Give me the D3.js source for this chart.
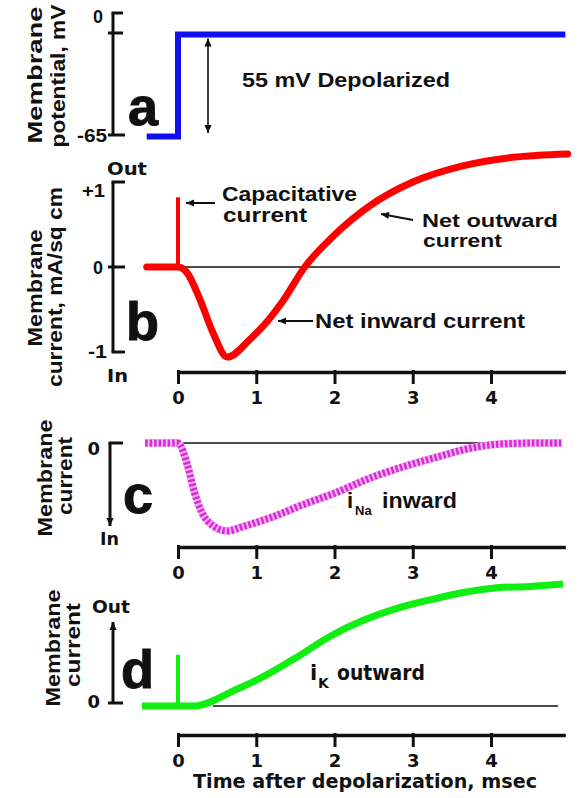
<!DOCTYPE html>
<html>
<head>
<meta charset="utf-8">
<script src="https://cdn.jsdelivr.net/npm/d3@7"></script>
<style>
  body { margin: 0; background: #fff; }
  text { font-family: "Liberation Sans", Arial, sans-serif; font-weight: bold; fill: #111; }
  .dv { font-family: "DejaVu Sans", Verdana, sans-serif; }
</style>
</head>
<body>
<svg id="chart" width="579" height="798"></svg>
<script>
/* Voltage clamp figure: clamp step (a), net current (b), iNa (c), iK (d) */

// time after depolarization, msec
var timeTicks = [0, 1, 2, 3, 4];
var timeMax = 4.95;

// a: membrane potential, mV
var clampT = [-0.4, 0, 0, timeMax];
var clampV = [-66, -66, -1, -1];

// b: net membrane current, mA/sq cm
var netT = [-0.4, 0, 0.11, 0.28, 0.45, 0.63, 0.92, 1.14, 1.34, 1.62, 1.98, 2.45, 3.0, 3.64, 4.28, 4.98];
var netI = [0, 0, -0.06, -0.38, -0.78, -1.06, -0.85, -0.64, -0.40, 0, 0.36, 0.72, 1.0, 1.19, 1.29, 1.33];
var capT = [0, 0];
var capI = [0, 0.82];

// c: sodium current (relative)
var naT = [-0.42, 0, 0.12, 0.21, 0.30, 0.43, 0.63, 0.83, 1.18, 1.60, 2.03, 2.45, 2.88, 3.31, 3.73, 4.15, 4.59, 4.9];
var naI = [0, 0, -0.25, -0.56, -0.78, -0.93, -1.0, -0.95, -0.85, -0.70, -0.56, -0.40, -0.27, -0.16, -0.06, -0.01, 0, 0];

// d: potassium current (relative)
var kT = [-0.46, 0.22, 0.40, 0.66, 1.09, 1.52, 1.94, 2.36, 2.80, 3.22, 3.64, 4.08, 4.50, 4.92];
var kI = [0, 0, 0.03, 0.11, 0.24, 0.40, 0.57, 0.70, 0.80, 0.87, 0.93, 0.97, 0.98, 1.0];
var kSpikeT = [0, 0];
var kSpikeI = [0, 0.42];

var svg = d3.select('#chart');

var x = d3.scaleLinear().domain([0, 4]).range([178, 491]);
var xAxisScale = d3.scaleLinear().domain([0, timeMax]).range([x(0), x(timeMax)]);

var yA = d3.scaleLinear().domain([-65, 0]).range([135, 33]);
var yB = d3.scaleLinear().domain([-1, 1]).range([352, 182]);
var yC = d3.scaleLinear().domain([-1, 0]).range([531, 443]);
var yD = d3.scaleLinear().domain([0, 1]).range([706, 584]);

var smooth = d3.curveMonotoneX;

var defs = svg.append('defs');
defs.append('marker')
    .attr('id', 'head')
    .attr('viewBox', '0 0 10 10')
    .attr('refX', 10).attr('refY', 5)
    .attr('markerWidth', 10).attr('markerHeight', 8)
    .attr('markerUnits', 'userSpaceOnUse')
    .attr('orient', 'auto-start-reverse')
  .append('path')
    .attr('d', 'M0,0.5 L10,5 L0,9.5 Z')
    .attr('fill', '#111');

function zip(a, b) {
  return a.map(function(d, i) { return [d, b[i]]; });
}

function trace(yScale, ts, vs, color, width, curve) {
  var line = d3.line()
      .x(function(d) { return x(d[0]); })
      .y(function(d) { return yScale(d[1]); })
      .curve(curve || d3.curveLinear);
  return svg.append('path')
      .datum(zip(ts, vs))
      .attr('d', line)
      .attr('fill', 'none')
      .attr('stroke', color)
      .attr('stroke-width', width);
}

function label(str, xp, yp, size, len, anchor, cls) {
  var t = svg.append('text')
      .attr('x', xp).attr('y', yp)
      .attr('font-size', size)
      .attr('text-anchor', anchor || 'start')
      .text(str);
  if (len) t.attr('textLength', len).attr('lengthAdjust', 'spacingAndGlyphs');
  if (cls) t.attr('class', cls);
  return t;
}

function vlabel(str, xp, yc, size, len) {
  svg.append('text')
      .attr('transform', 'translate(' + xp + ',' + yc + ') rotate(-90)')
      .attr('font-size', size)
      .attr('text-anchor', 'middle')
      .attr('textLength', len).attr('lengthAdjust', 'spacingAndGlyphs')
      .text(str);
}

function seg(x1, y1, x2, y2, w, arrow) {
  var l = svg.append('line')
      .attr('x1', x1).attr('y1', y1).attr('x2', x2).attr('y2', y2)
      .attr('stroke', '#111').attr('stroke-width', w);
  if (arrow === 'end' || arrow === 'both') l.attr('marker-end', 'url(#head)');
  if (arrow === 'start' || arrow === 'both') l.attr('marker-start', 'url(#head)');
  return l;
}

function timeAxis(yPos) {
  var g = svg.append('g')
      .attr('transform', 'translate(0,' + yPos + ')')
      .call(d3.axisBottom(xAxisScale)
        .tickValues(timeTicks)
        .tickFormat(d3.format('d'))
        .tickSize(12).tickSizeOuter(0).tickPadding(7));
  g.select('.domain').attr('stroke', '#111').attr('stroke-width', 3.5);
  g.selectAll('.tick line').attr('stroke', '#111').attr('stroke-width', 3).attr('y1', -2);
  g.selectAll('.tick text')
      .attr('class', 'dv')
      .attr('font-size', 18)
      .attr('font-weight', 'bold')
      .attr('fill', '#111');
  return g;
}

/* ---- panel a ---- */
var axA = 113;
seg(axA, yA(0) - 20, axA, yA(-65), 3);
seg(axA - 1.5, yA(0) - 20, axA + 10, yA(0) - 20, 3);
seg(axA - 5, yA(0), axA + 10, yA(0), 3);
seg(axA - 5, yA(-65), axA + 12, yA(-65), 3);
label('0', 103, 23, 18, null, 'end');
label('-65', 107, 142, 18, 30, 'end');
vlabel('Membrane', 42, 75, 21, 137);
vlabel('potential, mV', 65, 76, 21, 143);
label('a', 128, 125, 54).attr('stroke', '#111').attr('stroke-width', 1);

trace(yA, clampT, clampV, '#1010f0', 6).attr('stroke-linejoin', 'miter');
seg(208, yA(-1) + 4, 208, yA(-65) - 2, 1.6, 'both');
label('55 mV Depolarized', 242, 87, 20, 208);

/* ---- panel b ---- */
var axB = 113;
seg(axB, yB(1), axB, yB(-1), 3);
seg(axB - 1.5, yB(1), axB + 12, yB(1), 3);
seg(axB - 5, yB(0), axB + 12, yB(0), 3);
seg(axB - 1.5, yB(-1), axB + 12, yB(-1), 3);
label('Out', 107, 175, 18, 40, 'start', 'dv');
label('+1', 105, 197, 18, 23, 'end');
label('0', 103, 274, 18, null, 'end');
label('-1', 107, 358, 18, 19, 'end');
label('In', 107, 382, 18, 21, 'start', 'dv');
vlabel('Membrane', 42, 288, 21, 117);
vlabel('current, mA/sq cm', 62, 287, 21, 200);
label('b', 126, 340, 54).attr('stroke', '#111').attr('stroke-width', 1);

seg(x(0), yB(0), 560, yB(0), 1.6);
trace(yB, capT, capI, '#ff0000', 4);
trace(yB, netT, netI, '#ff0000', 7, smooth).attr('stroke-linecap', 'round');
timeAxis(372);

seg(215, 203, 186, 203, 2, 'end');
label('Capacitative', 222, 201, 20, 135);
label('current', 223, 222, 20, 84);
seg(413, 220, 381, 214, 2, 'end');
label('Net outward', 422, 227, 19, 136);
label('current', 423, 247, 19, 79);
seg(313, 321, 278, 321, 2, 'end');
label('Net inward current', 315, 328, 20, 210);

/* ---- panel c ---- */
var axC = 110;
seg(axC, yC(0), axC, 526, 3, 'end');
seg(axC - 1.5, yC(0), axC + 13, yC(0), 3);
label('0', 100, 455, 18, null, 'end', 'dv');
label('In', 100, 545, 18, 19, 'start', 'dv');
vlabel('Membrane', 52, 478, 21, 117);
vlabel('current', 72, 476, 21, 78);
label('c', 123, 513, 54).attr('stroke', '#111').attr('stroke-width', 1);

seg(183, yC(0), 487, yC(0), 1.6);
trace(yC, naT, naI, '#f4b4f4', 8, smooth);
trace(yC, naT, naI, '#d62cd6', 7, smooth).attr('stroke-dasharray', '2.5,2');
timeAxis(547);

var na = label('i', 347, 508, 22);
na.append('tspan').attr('x', 355).attr('y', 515).attr('font-size', 13).text('Na');
na.append('tspan').attr('x', 382).attr('y', 508).attr('textLength', 75).attr('lengthAdjust', 'spacingAndGlyphs').text('inward');

/* ---- panel d ---- */
var axD = 113;
seg(axD, yD(0) - 3, axD, 622, 3, 'end');
seg(axD - 5, yD(0) - 3, axD + 10, yD(0) - 3, 3);
label('Out', 92, 613, 18, 38, 'start', 'dv');
label('0', 100, 708, 18, null, 'end', 'dv');
vlabel('Membrane', 60, 648, 21, 117);
vlabel('current', 80, 645, 21, 84);
label('d', 121, 688, 54).attr('stroke', '#111').attr('stroke-width', 1);

seg(213, yD(0), 558, yD(0), 1.6);
trace(yD, kSpikeT, kSpikeI, '#11ee11', 4);
trace(yD, kT, kI, '#11ee11', 7, smooth);
timeAxis(735);

var ik = label('i', 310, 680, 21, null, 'start', 'dv');
ik.append('tspan').attr('x', 318).attr('y', 688).attr('font-size', 14).text('K');
ik.append('tspan').attr('x', 337).attr('y', 680).attr('textLength', 88).attr('lengthAdjust', 'spacingAndGlyphs').text('outward');

label('Time after depolarization, msec', 365, 788, 20, 344, 'middle', 'dv');
</script>
</body>
</html>
